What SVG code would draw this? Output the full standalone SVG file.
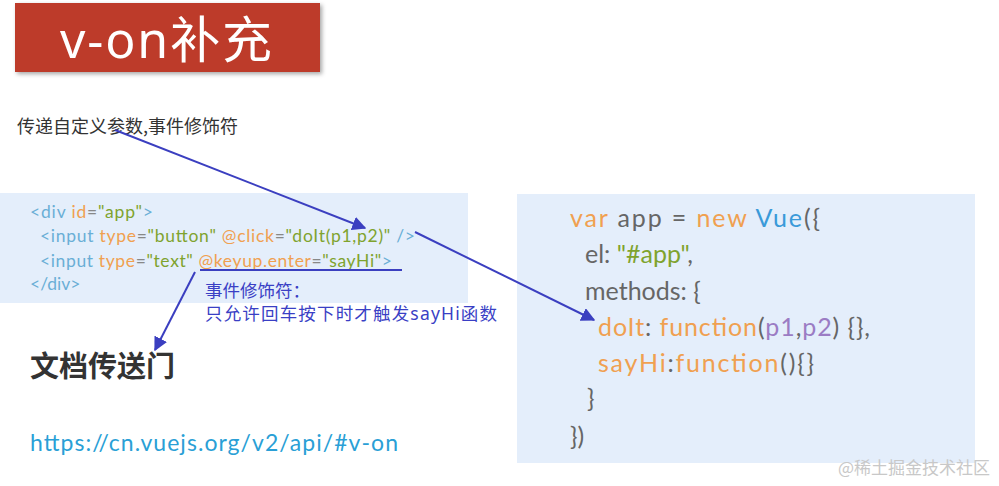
<svg xmlns="http://www.w3.org/2000/svg" width="999" height="486" viewBox="0 0 999 486">
<defs>
<style>
.code{font-family:Lato,"Open Sans",sans-serif}
.t{fill:#6aaed6}.a{fill:#f0a050}.g{fill:#888}.v{fill:#7fa32e}.d{fill:#666}.o{fill:#f0a050}.b{fill:#3a9ad9}.p{fill:#9b7cc4}
.conn{stroke:#3b3fc0;stroke-width:2;fill:none}
</style>
<marker id="ah" viewBox="0 0 10 10" refX="9" refY="5" markerWidth="7" markerHeight="7" orient="auto"><path d="M0,0 L10,5 L0,10 z" fill="#3b3fc0"/></marker>
<filter id="sh"><feDropShadow dx="2" dy="2" stdDeviation="2" flood-opacity="0.35"/></filter>
</defs>
<rect width="999" height="486" fill="#fff"/>
<g id="title">
<rect x="15" y="3" width="305" height="69" fill="#bd3a2a" filter="url(#sh)"/>
<text x="60" y="58" font-family="Noto Sans,Noto Sans CJK SC,sans-serif" font-size="50" fill="#fff" textLength="212">v-on补充</text>
</g>
<text id="subtitle" x="17" y="133" font-family="Noto Sans CJK SC,sans-serif" font-size="18" fill="#333">传递自定义参数,事件修饰符</text>
<g id="html-code" class="code" font-size="17.5">
<rect x="0" y="193" width="468" height="110" fill="#e4eefb"/>
<text x="30" y="218" textLength="123"><tspan class="t">&lt;div </tspan><tspan class="a">id</tspan><tspan class="g">=</tspan><tspan class="v">"app"</tspan><tspan class="t">&gt;</tspan></text>
<text x="40" y="242" textLength="375"><tspan class="t">&lt;input </tspan><tspan class="a">type</tspan><tspan class="g">=</tspan><tspan class="v">"button" </tspan><tspan class="a">@click</tspan><tspan class="g">=</tspan><tspan class="v">"doIt(p1,p2)" </tspan><tspan class="t">/&gt;</tspan></text>
<text x="40" y="267" textLength="352"><tspan class="t">&lt;input </tspan><tspan class="a">type</tspan><tspan class="g">=</tspan><tspan class="v">"text" </tspan><tspan class="a">@keyup.enter</tspan><tspan class="g">=</tspan><tspan class="v">"sayHi"</tspan><tspan class="t">&gt;</tspan></text>
<text x="30" y="290" class="t">&lt;/div&gt;</text>
</g>
<g id="annotation" font-family="Noto Sans,Noto Sans CJK SC,sans-serif" font-size="17.5" fill="#3a3fc5">
<text x="205" y="297">事件修饰符：</text>
<text x="205" y="320" textLength="292">只允许回车按下时才触发sayHi函数</text>
</g>
<g id="js-code" class="code" font-size="25">
<rect x="517" y="194" width="458" height="269" fill="#e4eefb"/>
<text x="570" y="227" textLength="250"><tspan class="o">var </tspan><tspan class="d">app = </tspan><tspan class="o">new </tspan><tspan class="b">Vue</tspan><tspan class="d">({</tspan></text>
<text x="585" y="263"><tspan class="d">el: </tspan><tspan class="v">"#app"</tspan><tspan class="d">,</tspan></text>
<text x="585" y="300" class="d">methods: {</text>
<text x="598" y="336" textLength="272"><tspan class="o">doIt</tspan><tspan class="d">: </tspan><tspan class="o">function</tspan><tspan class="d">(</tspan><tspan class="p">p1</tspan><tspan class="d">,</tspan><tspan class="p">p2</tspan><tspan class="d">) {},</tspan></text>
<text x="598" y="372" textLength="216"><tspan class="o">sayHi</tspan><tspan class="d">:</tspan><tspan class="o">function</tspan><tspan class="d">(){}</tspan></text>
<text x="587" y="407" class="d">}</text>
<text x="570" y="445" class="d">})</text>
</g>
<text id="docs" x="30" y="377" font-family="Noto Sans CJK SC,sans-serif" font-size="29" font-weight="bold" fill="#333">文档传送门</text>
<text id="link" x="30" y="451" font-family="Lato,Open Sans,sans-serif" font-size="23" fill="#2a9fd6" textLength="368">https://cn.vuejs.org/v2/api/#v-on</text>
<g id="connectors">
<line class="conn" x1="200" y1="270" x2="402" y2="270"/>
<line class="conn" x1="115" y1="130" x2="365" y2="228" marker-end="url(#ah)"/>
<line class="conn" x1="415" y1="232" x2="594" y2="320" marker-end="url(#ah)"/>
<line class="conn" x1="195" y1="272" x2="155" y2="350" marker-end="url(#ah)"/>
</g>
<text x="838" y="474" font-family="Noto Sans CJK SC,sans-serif" font-size="17" fill="#c8c8c8">@稀土掘金技术社区</text>
</svg>
